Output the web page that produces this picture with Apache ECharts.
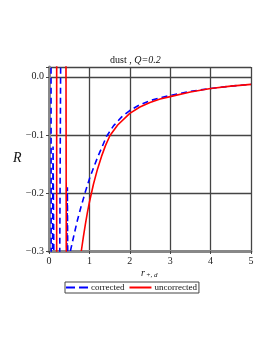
<!DOCTYPE html>
<html><head><meta charset="utf-8">
<script src="https://cdn.jsdelivr.net/npm/echarts@6/dist/echarts.min.js"></script>
<style>html,body{margin:0;padding:0;background:#fff}#c{width:273px;height:353px}</style>
</head><body><div id="c"></div>
<script>
// x ticks and y ticks
const xTicks = [0, 1, 2, 3, 4, 5];
const yTicks = [-0.3, -0.2, -0.1, 0.0];
// corrected (blue dashed) main branch
const correctedCurve = [[0.53,-0.30],[0.62,-0.272],[0.70,-0.248],[0.80,-0.222],[0.90,-0.198],[1.0,-0.176],[1.1,-0.157],[1.2,-0.139],[1.3,-0.123],[1.42,-0.103],[1.6,-0.084],[1.8,-0.069],[2.0,-0.058],[2.25,-0.048],[2.5,-0.041],[2.75,-0.036],[3.0,-0.032],[3.5,-0.025],[4.0,-0.020],[4.5,-0.016],[5.0,-0.013]];
// corrected near-singular branches
const correctedSpikes = [
  [[0.05,0.05],[0.055,-0.4]],
  [[0.08,-0.4],[0.1,-0.12],[0.13,-0.4]],
  [[0.29,0.05],[0.26,-0.4]],
  [[0.43,-0.4],[0.455,-0.19],[0.47,-0.4]]
];
// uncorrected (red) main branch
const uncorrectedCurve = [[0.80,-0.30],[0.85,-0.276],[0.90,-0.254],[0.95,-0.234],[1.0,-0.216],[1.1,-0.185],[1.2,-0.159],[1.3,-0.137],[1.4,-0.118],[1.51,-0.101],[1.7,-0.083],[2.0,-0.063],[2.25,-0.052],[2.5,-0.044],[2.75,-0.038],[3.0,-0.034],[3.5,-0.026],[4.0,-0.020],[4.5,-0.016],[5.0,-0.013]];
const uncorrectedSpikes = [
  [[0.19,0.05],[0.19,-0.4]],
  [[0.42,0.05],[0.43,-0.4]]
];
const BLUE = '#0000ff', RED = '#ff0000';
const serif = 'Liberation Serif';
function mk(name, data, color, dashed){
  return {name, type:'line', data, showSymbol:false, symbol:'none', clip:true, animation:false,
    lineStyle:{color, width:1.6, type: dashed ? [6,4] : 'solid'}, itemStyle:{color}};
}
const series = [];
correctedSpikes.forEach(s => series.push(mk('corrected', s, BLUE, true)));
series.push(mk('corrected', correctedCurve, BLUE, true));
uncorrectedSpikes.forEach(s => series.push(mk('uncorrected', s, RED, false)));
series.push(mk('uncorrected', uncorrectedCurve, RED, false));

const chart = echarts.init(document.getElementById('c'), null, {renderer:'canvas'});
chart.setOption({
  animation:false,
  grid:{left:49, right:22, top:67, bottom:102},
  xAxis:{type:'value', min:xTicks[0], max:xTicks[xTicks.length-1], interval:1,
    axisLine:{show:true, onZero:false, lineStyle:{color:'#888', width:3}},
    axisTick:{show:true, length:3, lineStyle:{color:'#444'}},
    axisLabel:{fontFamily:serif, fontSize:10, color:'#222', margin:5},
    splitLine:{show:true, lineStyle:{color:'#444', width:1.3}}},
  yAxis:{type:'value', min:yTicks[0], max:0.017, interval:0.1,
    axisLine:{show:true, onZero:false, lineStyle:{color:'#888', width:3}},
    axisTick:{show:true, length:3, lineStyle:{color:'#444'}},
    axisLabel:{fontFamily:serif, fontSize:10, color:'#222', margin:5,
      formatter: v => { const r = Math.round(v*10)/10; if (Math.abs(v-r)>1e-9) return ''; return (r<0?'\u2212':'') + Math.abs(r).toFixed(1); }},
    splitLine:{show:true, lineStyle:{color:'#444', width:1.3}}},
  legend:{left:65, top:282, orient:'horizontal',
    data:[
      {name:'corrected', icon:'path://M0,0h9v2h-9z M13,0h9v2h-9z', itemStyle:{color:BLUE, borderWidth:0}},
      {name:'uncorrected', icon:'path://M0,0h22v2h-22z', itemStyle:{color:RED, borderWidth:0}}],
    itemWidth:22, itemHeight:2, itemGap:5, padding:[1,2,1,1],
    borderColor:'#444', borderWidth:1, textStyle:{fontFamily:serif, fontSize:9, color:'#111', padding:[0,0,0,-2]}},
  graphic:[
    {type:'text', left:110, top:55, style:{text:'dust , {i|Q=0.2}', font:'10px "Liberation Serif"', fill:'#111',
      rich:{i:{fontStyle:'italic', fontFamily:serif, fontSize:10}}}},
    {type:'text', left:13, top:151, style:{text:'R', font:'italic 14px "Liberation Serif"', fill:'#111'}},
    {type:'text', left:141, top:268, style:{text:'r{s|+, d}', font:'italic 10px "Liberation Serif"', fill:'#111',
      rich:{s:{fontStyle:'italic', fontFamily:serif, fontSize:7, padding:[4,0,0,1]}}}}
  ],
  series
});
</script></body></html>
